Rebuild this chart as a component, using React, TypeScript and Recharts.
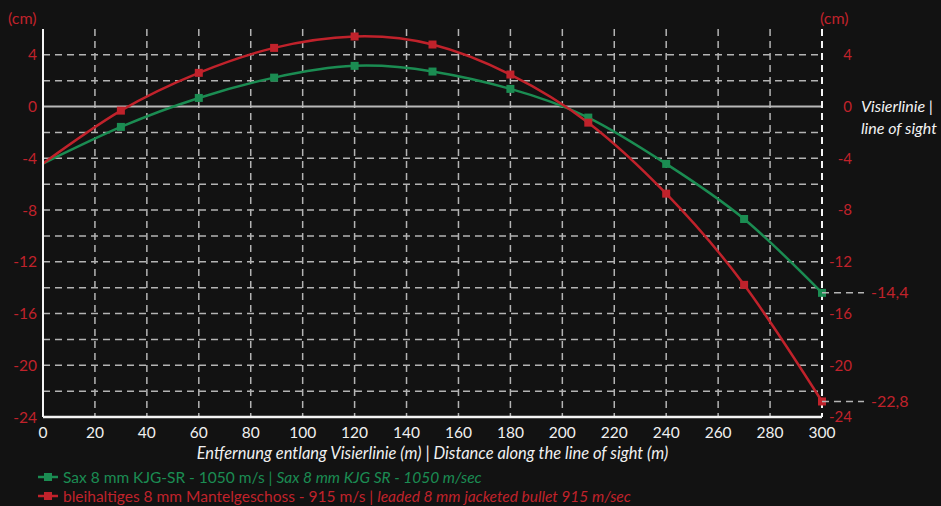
import React from "react";
import { LineChart, Line, XAxis, YAxis, CartesianGrid, ReferenceLine } from "recharts";

const distances = [0, 30, 60, 89, 120, 150, 180, 210, 240, 270, 300];
const saxDrop = [-4.4, -1.57, 0.67, 2.24, 3.15, 2.71, 1.37, -0.85, -4.43, -8.69, -14.4];
const leadDrop = [-4.4, -0.31, 2.61, 4.54, 5.42, 4.8, 2.48, -1.24, -6.73, -13.78, -22.8];

const xTicks = [0, 20, 40, 60, 80, 100, 120, 140, 160, 180, 200, 220, 240, 260, 280, 300];
const yTicks = [4, 0, -4, -8, -12, -16, -20, -24];
const gridLevels = [4, 2, -2, -4, -6, -8, -10, -12, -14, -16, -18, -20, -22];
const endMarks = [-14.4, -22.8];
const endLabels = ["-14,4", "-22,8"];

const RED = "#c0222b";
const GREEN = "#1b8c52";
const GRID = "#b4b4b4";
const BG = "#121212";

const data = distances.map((d, i) => ({ d, sax: saxDrop[i], lead: leadDrop[i] }));

function squareDot(color: string) {
  return (props: any) => {
    const { cx, cy, index } = props;
    if (index === 0 || cx == null) return <g key={`n${index}`} />;
    return <rect key={`d${index}`} x={cx - 4} y={cy - 4} width={8} height={8} fill={color} />;
  };
}

function RightTick(props: any) {
  const { x, y, payload } = props;
  const v = payload.value;
  const k = endMarks.indexOf(v);
  if (k >= 0) {
    return (
      <g>
        <line x1={x} x2={x + 42} y1={y} y2={y} stroke={GRID} strokeWidth={1.5} strokeDasharray="7 5" />
        <text x={x + 49} y={y} dy="0.35em" fill={RED} fontSize={16}>
          {endLabels[k]}
        </text>
      </g>
    );
  }
  return (
    <g>
      <text x={x + 30} y={y} dy="0.35em" textAnchor="end" fill={RED} fontSize={15}>
        {String(v)}
      </text>
      {v === 0 && (
        <text x={x + 39} y={y} fill="#f2f2f2" fontSize={16} fontStyle="italic">
          <tspan x={x + 39} dy="0.35em">Visierlinie |</tspan>
          <tspan x={x + 39} dy="1.35em">line of sight</tspan>
        </text>
      )}
    </g>
  );
}

function LegendRow({ color, main, alt }: { color: string; main: string; alt: string }) {
  return (
    <div style={{ display: "flex", alignItems: "center", height: 19, color, whiteSpace: "pre" }}>
      <svg width={20} height={12} style={{ marginRight: 5 }}>
        <line x1={0} x2={20} y1={6} y2={6} stroke={color} strokeWidth={2.5} />
        <rect x={6} y={2} width={8} height={8} fill={color} />
      </svg>
      <span>{main}</span>
      <span style={{ fontStyle: "italic" }}>{alt}</span>
    </div>
  );
}

export default function App() {
  return (
    <div
      style={{
        position: "absolute",
        left: 0,
        top: 0,
        width: 941,
        height: 506,
        background: BG,
        fontFamily: "Lato, sans-serif",
        overflow: "hidden",
      }}
    >
      <div style={{ position: "absolute", left: 8, top: 8, color: RED, fontSize: 16 }}>(cm)</div>
      <div style={{ position: "absolute", left: 820, top: 8, color: RED, fontSize: 16 }}>(cm)</div>
      <LineChart width={941} height={445} data={data} margin={{ top: 29, right: 0, left: 0, bottom: 0 }}>
        <CartesianGrid horizontal={false} stroke={GRID} strokeWidth={1.5} strokeDasharray="7 5" />
        {gridLevels.map((g) => (
          <ReferenceLine key={g} yAxisId="left" y={g} stroke={GRID} strokeWidth={1.5} strokeDasharray="7 5" />
        ))}
        <ReferenceLine yAxisId="left" y={0} stroke="#b8b8b8" strokeWidth={2} />
        <XAxis
          dataKey="d"
          type="number"
          domain={[0, 300]}
          ticks={xTicks}
          interval={0}
          height={28}
          tickLine={false}
          tickSize={0}
          tickMargin={10}
          axisLine={{ stroke: "#f4f4f4", strokeWidth: 2.5 }}
          tick={{ fill: "#f0f0f0", fontSize: 15.5 }}
        />
        <YAxis
          yAxisId="left"
          orientation="left"
          type="number"
          domain={[-24, 6]}
          ticks={yTicks}
          interval={0}
          width={43}
          tickLine={false}
          tickSize={0}
          tickMargin={6}
          axisLine={{ stroke: "#f4f4f4", strokeWidth: 2 }}
          tick={{ fill: RED, fontSize: 15.5 }}
          allowDataOverflow
        />
        <YAxis
          yAxisId="right"
          orientation="right"
          type="number"
          domain={[-24, 6]}
          ticks={[...yTicks, ...endMarks]}
          interval={0}
          width={119}
          tickLine={false}
          tickSize={0}
          tickMargin={0}
          axisLine={{ stroke: "#f4f4f4", strokeWidth: 2, strokeDasharray: "7 5" }}
          tick={<RightTick />}
          allowDataOverflow
        />
        <Line
          yAxisId="left"
          type="natural"
          dataKey="sax"
          stroke={GREEN}
          strokeWidth={2.5}
          dot={squareDot(GREEN)}
          activeDot={false}
          isAnimationActive={false}
        />
        <Line
          yAxisId="left"
          type="natural"
          dataKey="lead"
          stroke={RED}
          strokeWidth={2.5}
          dot={squareDot(RED)}
          activeDot={false}
          isAnimationActive={false}
        />
      </LineChart>
      <div
        style={{
          position: "absolute",
          left: 43,
          width: 779,
          top: 443,
          textAlign: "center",
          color: "#f0f0f0",
          fontSize: 16.5,
          fontStyle: "italic",
        }}
      >
        Entfernung entlang Visierlinie (m) | Distance along the line of sight (m)
      </div>
      <div style={{ position: "absolute", left: 38, top: 467, fontSize: 15.5 }}>
        <LegendRow color={GREEN} main="Sax 8 mm KJG-SR - 1050 m/s | " alt="Sax 8 mm KJG SR - 1050 m/sec" />
        <LegendRow
          color={RED}
          main="bleihaltiges 8 mm Mantelgeschoss - 915 m/s | "
          alt="leaded 8 mm jacketed bullet 915 m/sec"
        />
      </div>
    </div>
  );
}
